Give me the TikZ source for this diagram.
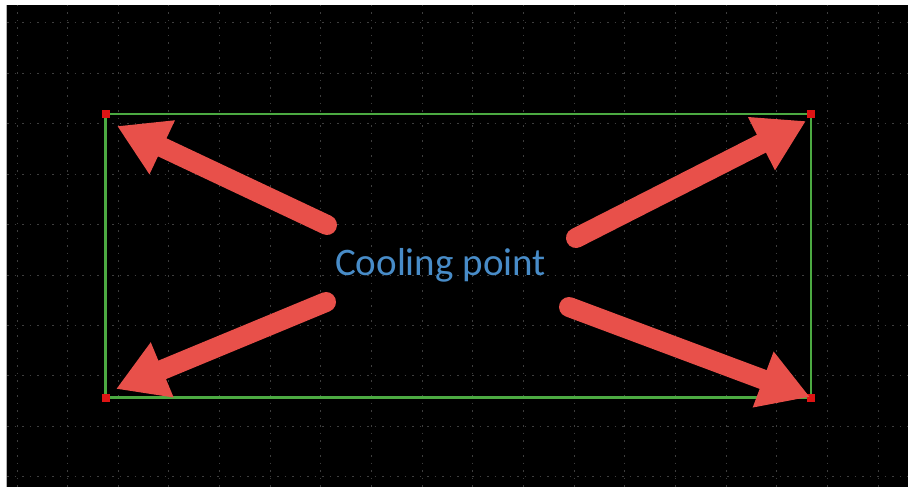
\documentclass[tikz,border=0pt]{standalone}
\usepackage{fontspec}
\newfontfamily\calib{Carlito}
\definecolor{ArrowRed}{RGB}{232,80,74}
\definecolor{FrameGreen}{RGB}{76,170,66}
\definecolor{CornerRed}{RGB}{222,20,20}
\definecolor{LabelBlue}{RGB}{72,140,200}
\definecolor{GridGray}{RGB}{62,62,62}
\usetikzlibrary{arrows.meta}
\tikzset{>=latex}
\tikzset{gridline/.style={GridGray,line width=1pt,dash pattern=on 1.5pt off 6pt}}
\tikzset{frameline/.style={FrameGreen,line width=2.5pt}}
\tikzset{cornerdot/.style={fill=CornerRed,minimum size=8pt,inner sep=0pt}}
\tikzset{coolarrow/.style={ArrowRed,line width=20pt,line cap=round,-{Triangle[length=50pt,width=56pt]}}}
\tikzset{coollabel/.style={LabelBlue,anchor=base,inner sep=0pt,font=\calib\fontsize{39}{45}\selectfont}}

\begin{document}
\begin{tikzpicture}[x=1pt,y=-1pt]
        \useasboundingbox (0,0) rectangle (908,487);
        \fill[black] (7,5) rectangle (908,487);
        \draw[gray!60,line width=1pt] (6.5,5) -- (6.5,487);
        \foreach \i in {0,...,17}
            \draw[gridline] ({17+50.65*\i},5) -- ({17+50.65*\i},487);
        \foreach \j in {0,...,9}
            \draw[gridline] (7,{23+50.4*\j}) -- (908,{23+50.4*\j});
        % corners of the frame
        \coordinate (tl) at (105.5,114);
        \coordinate (tr) at (811,114);
        \coordinate (bl) at (105.5,397.5);
        \coordinate (br) at (811,397.5);
        \draw[frameline] (tl) -- (tr) -- (br) -- (bl) -- cycle;
        \node[cornerdot] (sqtl) at (tl) {};
        \node[cornerdot] (sqtr) at (tr) {};
        \node[cornerdot] (sqbl) at (bl) {};
        \node[cornerdot] (sqbr) at (br) {};
        \node[coollabel] (cool) at (440.5,275) {Cooling point};
        % arrow ends
        \coordinate (tailtl) at (327,225);
        \coordinate (tailtr) at (576,238);
        \coordinate (tailbl) at (326,302);
        \coordinate (tailbr) at (569,307);
        \coordinate (tiptl) at (117,126);
        \coordinate (tiptr) at (806,121);
        \coordinate (tipbl) at (116,389);
        \coordinate (tipbr) at (810,397);
        \draw[coolarrow] (tailtl) -- (tiptl);
        \draw[coolarrow] (tailtr) -- (tiptr);
        \draw[coolarrow] (tailbl) -- (tipbl);
        \draw[coolarrow] (tailbr) -- (tipbr);
    \end{tikzpicture}
\end{document}
